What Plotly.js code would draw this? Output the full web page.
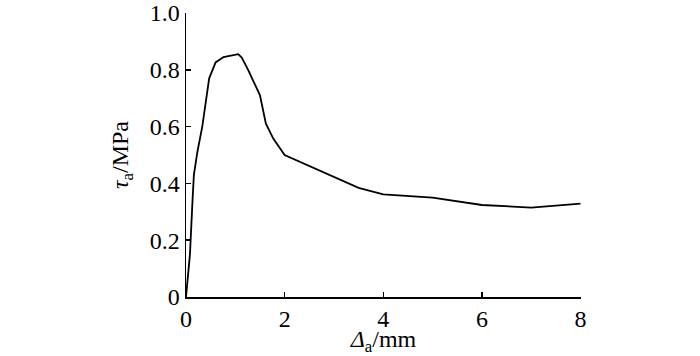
<!DOCTYPE html>
<html>
<head>
<meta charset="utf-8">
<script src="https://cdn.plot.ly/plotly-3.0.1.min.js"></script>
<style>html,body{margin:0;padding:0;background:#fff;}#chart{width:700px;height:356px;}</style>
</head>
<body>
<div id="chart"></div>
<script>
// Displacement Δa (mm)
var displacement = [0, 0.08, 0.135, 0.16, 0.23, 0.33, 0.47, 0.60, 0.76, 0.93, 1.06, 1.13, 1.26, 1.50, 1.62, 1.77, 2.0, 3.5, 4.0, 5.0, 6.0, 7.0, 8.0];
// Shear stress τa (MPa)
var stress = [0, 0.15, 0.35, 0.43, 0.51, 0.60, 0.77, 0.826, 0.845, 0.852, 0.855, 0.843, 0.80, 0.71, 0.61, 0.558, 0.50, 0.384, 0.361, 0.35, 0.324, 0.315, 0.329];

var xTicks = [0, 2, 4, 6, 8];
var yTicks = [0, 0.2, 0.4, 0.6, 0.8, 1.0];
var yTickText = ['0', '0.2', '0.4', '0.6', '0.8', '1.0'];

function mkFont() {
  return {family: 'Liberation Serif', size: 24, color: '#000000'};
}

var data = [{
  x: displacement, y: stress, type: 'scatter', mode: 'lines',
  line: {color: '#000', width: 1.8}, hoverinfo: 'skip'
}];

var layout = {
  width: 700, height: 356,
  margin: {l: 186, r: 119, t: 13, b: 59},
  paper_bgcolor: '#fff', plot_bgcolor: '#fff',
  showlegend: false,
  font: mkFont(),
  xaxis: {
    range: [0, 8.01], tickmode: 'array', tickvals: xTicks, ticktext: xTicks.map(String),
    ticks: 'inside', ticklen: 5, tickwidth: 1.5, tickcolor: '#000',
    showline: true, linecolor: '#000', linewidth: 1.5,
    showgrid: false, zeroline: false, tickfont: mkFont(), ticklabeloverflow: 'allow',
    title: {text: '<i>Δ</i><sub>a</sub>/mm', font: mkFont(), standoff: 6}
  },
  yaxis: {
    range: [0, 1.0], tickmode: 'array', tickvals: yTicks, ticktext: yTickText,
    ticks: 'inside', ticklen: 5, tickwidth: 1.5, tickcolor: '#000',
    showline: true, linecolor: '#000', linewidth: 1.5,
    showgrid: false, zeroline: false, tickfont: mkFont(), ticklabeloverflow: 'allow',
    title: {text: '<i>τ</i><sub>a</sub>/MPa', font: mkFont(), standoff: 14}
  }
};

Plotly.newPlot('chart', data, layout, {staticPlot: true, displayModeBar: false});
</script>
</body>
</html>
